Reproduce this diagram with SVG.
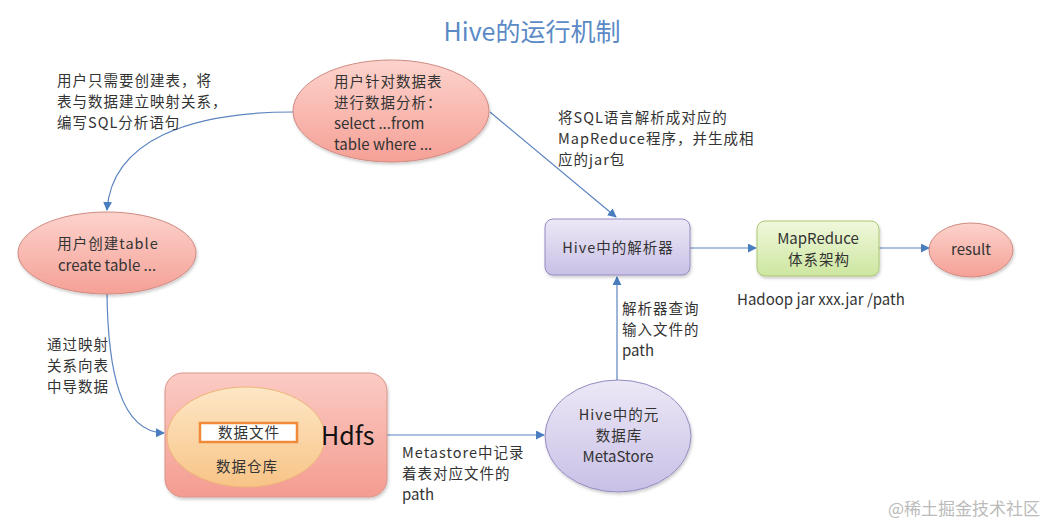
<svg xmlns="http://www.w3.org/2000/svg" width="1052" height="525" viewBox="0 0 1052 525">
<style>
text{font-family:"Noto Sans CJK SC","Open Sans",sans-serif;fill:#333;font-size:14.5px;letter-spacing:1px}
.c{text-anchor:middle}
.l{letter-spacing:0;font-size:15px}
.title{font-size:25px;fill:#5b8ac6;letter-spacing:0}
.conn{fill:none;stroke:#5b84c0;stroke-width:1.2}
</style>
<defs>
<marker id="ah" viewBox="0 0 10 10" refX="9" refY="5" markerWidth="9" markerHeight="9" markerUnits="userSpaceOnUse" orient="auto">
<path d="M0,0 L10,5 L0,10 z" fill="#4a7cc0"/>
</marker>
<linearGradient id="gRed" x1="0" y1="0" x2="0" y2="1">
<stop offset="0" stop-color="#fcd3cc"/><stop offset="1" stop-color="#f5a096"/>
</linearGradient>
<linearGradient id="gHdfs" x1="0" y1="0" x2="0" y2="1">
<stop offset="0" stop-color="#fbcbc4"/><stop offset="1" stop-color="#f49c90"/>
</linearGradient>
<linearGradient id="gOr" x1="0" y1="0" x2="0" y2="1">
<stop offset="0" stop-color="#fde7c6"/><stop offset="1" stop-color="#f8c487"/>
</linearGradient>
<linearGradient id="gPur" x1="0" y1="0" x2="0" y2="1">
<stop offset="0" stop-color="#ece8f6"/><stop offset="1" stop-color="#c9c0e6"/>
</linearGradient>
<linearGradient id="gGr" x1="0" y1="0" x2="0" y2="1">
<stop offset="0" stop-color="#f0f8dc"/><stop offset="1" stop-color="#cde6a0"/>
</linearGradient>
<filter id="sh" x="-10%" y="-10%" width="120%" height="130%">
<feDropShadow dx="1" dy="2" stdDeviation="1.5" flood-color="#000" flood-opacity="0.2"/>
</filter>
</defs>
<rect width="1052" height="525" fill="#ffffff"/>
<text class="title c" x="532" y="41">Hive的运行机制</text>

<g id="connectors">
<path class="conn" d="M293,112 C190,112 112,140 107,210" marker-end="url(#ah)"/>
<path class="conn" d="M107,294 C108,370 120,432 164,433" marker-end="url(#ah)"/>
<path class="conn" d="M490,112 L616,217" marker-end="url(#ah)"/>
<path class="conn" d="M387,435 L544,435" marker-end="url(#ah)"/>
<path class="conn" d="M617,380 L617,277" marker-end="url(#ah)"/>
<path class="conn" d="M690,248 L756,248" marker-end="url(#ah)"/>
<path class="conn" d="M879,248 L929,248" marker-end="url(#ah)"/>
</g>

<g id="label-top-left">
<text x="57" y="86">用户只需要创建表，将</text>
<text x="57" y="107">表与数据建立映射关系，</text>
<text x="57" y="128">编写SQL分析语句</text>
</g>
<g id="label-sql">
<text x="558" y="123">将SQL语言解析成对应的</text>
<text x="558" y="144">MapReduce程序，并生成相</text>
<text x="558" y="165">应的jar包</text>
</g>
<g id="label-import">
<text x="47" y="350">通过映射</text>
<text x="47" y="371">关系向表</text>
<text x="47" y="392">中导数据</text>
</g>
<g id="label-metastore">
<text x="402" y="458">Metastore中记录</text>
<text x="402" y="479">着表对应文件的</text>
<text class="l" x="402" y="500">path</text>
</g>
<g id="label-query">
<text x="622" y="314">解析器查询</text>
<text x="622" y="335">输入文件的</text>
<text class="l" x="622" y="356">path</text>
</g>
<g id="label-hadoop">
<text class="l" x="737" y="305">Hadoop jar xxx.jar /path</text>
</g>

<g id="node-analysis">
<ellipse cx="391" cy="111" rx="98" ry="51" fill="url(#gRed)" stroke="#d08a82" stroke-width="1" filter="url(#sh)"/>
<text x="334" y="87">用户针对数据表</text>
<text x="334" y="108">进行数据分析：</text>
<text class="l" x="334" y="129">select ...from</text>
<text class="l" x="334" y="150">table where ...</text>
</g>

<g id="node-create">
<ellipse cx="107" cy="253" rx="89" ry="41" fill="url(#gRed)" stroke="#d08a82" stroke-width="1" filter="url(#sh)"/>
<text class="c" x="108" y="249">用户创建table</text>
<text class="c l" x="107" y="271">create table ...</text>
</g>

<g id="node-hdfs">
<rect x="165" y="373" width="222" height="124" rx="18" fill="url(#gHdfs)" stroke="#d8948c" stroke-width="1" filter="url(#sh)"/>
<ellipse cx="246" cy="437" rx="79" ry="50" fill="url(#gOr)" stroke="#eeb678" stroke-width="1"/>
<rect x="200" y="423" width="97" height="19" fill="#ffffff" stroke="#f08a38" stroke-width="2.5"/>
<text class="c" x="249" y="438">数据文件</text>
<text class="c" x="247" y="472">数据仓库</text>
<text x="321" y="445" style="font-size:25px;fill:#111;letter-spacing:0">Hdfs</text>
</g>

<g id="node-metastore">
<ellipse cx="618" cy="436" rx="73" ry="56" fill="url(#gPur)" stroke="#958ac0" stroke-width="1" filter="url(#sh)"/>
<text class="c" x="619" y="420">Hive中的元</text>
<text class="c" x="619" y="441">数据库</text>
<text class="c l" x="618" y="462">MetaStore</text>
</g>

<g id="node-parser">
<rect x="545" y="219" width="145" height="56" rx="8" fill="url(#gPur)" stroke="#958ac0" stroke-width="1" filter="url(#sh)"/>
<text class="c" x="618" y="253">Hive中的解析器</text>
</g>

<g id="node-mapreduce">
<rect x="757" y="221" width="122" height="55" rx="8" fill="url(#gGr)" stroke="#aac873" stroke-width="1" filter="url(#sh)"/>
<text class="c l" x="818" y="244">MapReduce</text>
<text class="c" x="819" y="265">体系架构</text>
</g>

<g id="node-result">
<ellipse cx="971" cy="250" rx="42" ry="27" fill="url(#gRed)" stroke="#d08a82" stroke-width="1" filter="url(#sh)"/>
<text class="c l" x="971" y="255">result</text>
</g>

<text x="888" y="515" style="font-size:17px;fill:#bbbbbb;letter-spacing:0">@稀土掘金技术社区</text>
</svg>
